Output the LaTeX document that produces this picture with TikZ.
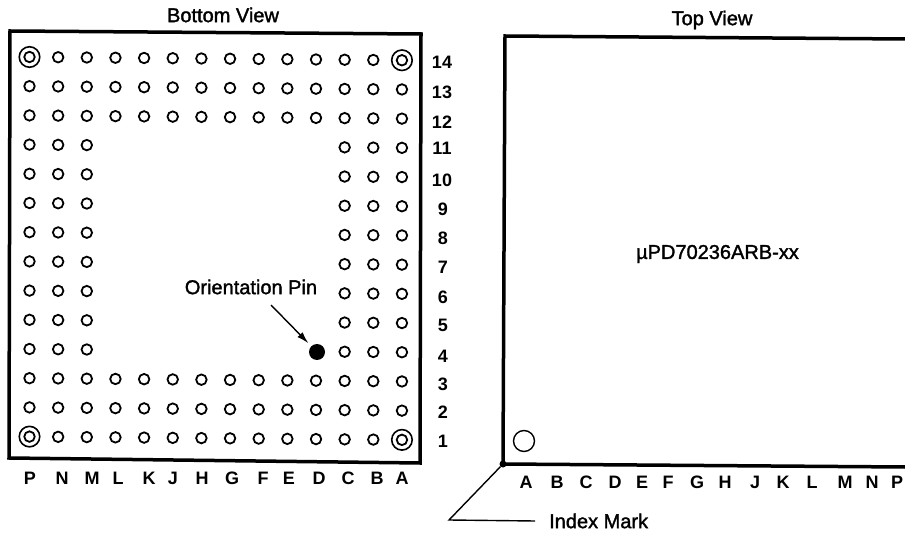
\documentclass[tikz,border=0pt]{standalone}
\usepackage{fontspec}
\setmainfont{Liberation Sans}
\newfontfamily\heavyfont[FakeBold=1.6]{Liberation Sans}
\usetikzlibrary{arrows.meta}
\begin{document}
\begin{tikzpicture}[x=1pt,y=-1pt,
	pin/.style ={circle, draw, line width=1.8pt, inner sep=0pt, minimum size=10.5pt},
	ringpin/.style ={circle, draw, line width=1.6pt, inner sep=0pt, minimum size=20.5pt},
	frame/.style ={line width=3.5pt, line join=miter},
	title/.style ={font=\fontsize{20}{20}\heavyfont},
	tag/.style ={font=\fontsize{18}{18}\selectfont\bfseries, inner sep=0pt}]
	\useasboundingbox (0,0) rectangle (905,534);
	% bottom view
	\draw[frame] (10,31) -- (421,34) -- (420,463) -- (9,458) -- cycle;
	\node[title] (bottomview) at (223,15) {Bottom View};
	\foreach \r in {1,2,3,12,13,14}
		\foreach \c in {0,...,13}
			\node[pin] (p\c-\r) at (29.5+28.65*\c,57+29.2*14-29.2*\r+0.25*\c) {};
	\foreach \r in {4,...,11}
		\foreach \c in {0,1,2,11,12,13}
			\node[pin] (p\c-\r) at (29.5+28.65*\c,57+29.2*14-29.2*\r+0.25*\c) {};
	\node[ringpin] (r1) at (p0-14) {};
	\node[ringpin] (r2) at (p13-14) {};
	\node[ringpin] (r3) at (p0-1) {};
	\node[ringpin] (r4) at (p13-1) {};
	\node[circle, fill, inner sep=0pt, minimum size=16pt] (orient) at (317,352) {};
	\node[title] (orientlabel) at (251,287) {Orientation Pin};
	\coordinate (orienttail) at (271,305);
	\draw[line width=1.4pt,-{Latex[length=12pt,width=7pt]},shorten >=4pt] (orienttail) -- (orient);
	% row numbers
	\node[tag] (n14) at (442,62) {14};
	\node[tag] (n13) at (442,92) {13};
	\node[tag] (n12) at (442,122) {12};
	\node[tag] (n11) at (442,148) {11};
	\node[tag] (n10) at (442,180) {10};
	\node[tag] (n9) at (443,209) {9};
	\node[tag] (n8) at (443,238) {8};
	\node[tag] (n7) at (443,267) {7};
	\node[tag] (n6) at (443,297) {6};
	\node[tag] (n5) at (443,325) {5};
	\node[tag] (n4) at (443,356) {4};
	\node[tag] (n3) at (443,384) {3};
	\node[tag] (n2) at (443,412) {2};
	\node[tag] (n1) at (443,441) {1};
	% letters under bottom view
	\node[tag] (bp) at (30,478) {P};
	\node[tag] (bn) at (62,478) {N};
	\node[tag] (bm) at (92,478) {M};
	\node[tag] (bl) at (118,478) {L};
	\node[tag] (bk) at (149,478) {K};
	\node[tag] (bj) at (173,478) {J};
	\node[tag] (bh) at (202,478) {H};
	\node[tag] (bg) at (232,478) {G};
	\node[tag] (bf) at (263,478) {F};
	\node[tag] (be) at (289,478) {E};
	\node[tag] (bd) at (319,478) {D};
	\node[tag] (bc) at (348,478) {C};
	\node[tag] (bb) at (377,478) {B};
	\node[tag] (ba) at (402,478) {A};
	% top view
	\draw[frame] (905,39) -- (505,36) -- (503,464) -- (905,467);
	\node[title] (topview) at (712,20) {Top View};
	\node[title] (partname) at (717.5,254) {µPD70236ARB-xx};
	\node[circle, draw, line width=1.4pt, inner sep=0pt, minimum size=21pt] (dimple) at (524,441) {};
	% letters under top view
	\node[tag] (ta) at (526,482) {A};
	\node[tag] (tb) at (557,482) {B};
	\node[tag] (tc) at (586,482) {C};
	\node[tag] (td) at (615,482) {D};
	\node[tag] (te) at (642,482) {E};
	\node[tag] (tf) at (668,482) {F};
	\node[tag] (tg) at (697,482) {G};
	\node[tag] (th) at (725,482) {H};
	\node[tag] (tj) at (755,482) {J};
	\node[tag] (tk) at (783,482) {K};
	\node[tag] (tl) at (812,482) {L};
	\node[tag] (tm) at (845,482) {M};
	\node[tag] (tn) at (872,482) {N};
	\node[tag] (tp) at (897,482) {P};
	% index mark
	\node[circle, fill, inner sep=0pt, minimum size=7pt] (corner) at (503,464) {};
	\coordinate (bend) at (449,520);
	\node[title, anchor=west, inner sep=0pt] (indexmark) at (549,521) {Index Mark};
	\draw[line width=1.4pt] (corner) -- (bend) -- (535,521);
\end{tikzpicture}
\end{document}
